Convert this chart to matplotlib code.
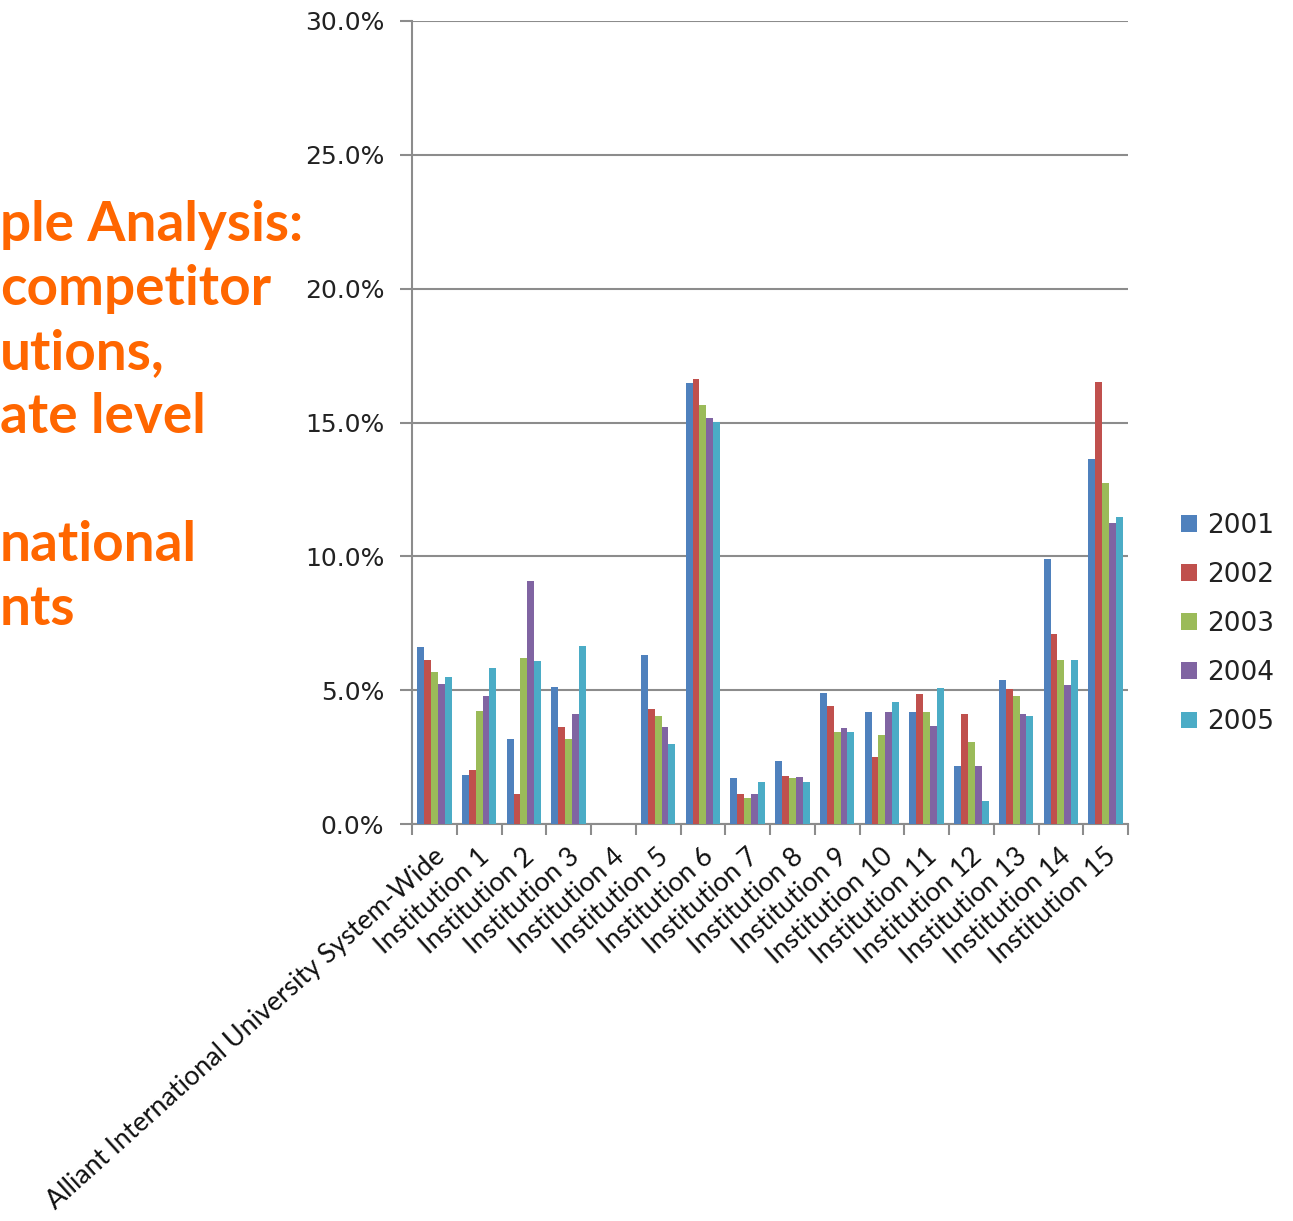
import matplotlib.pyplot as plt
import numpy as np
from matplotlib.ticker import PercentFormatter

# Share of graduate international students by institution, 2001-2005 (%)
categories = ["Alliant International University System-Wide"] + \
    [f"Institution {i}" for i in range(1, 16)]
years = ["2001", "2002", "2003", "2004", "2005"]

share_2001 = [6.63, 1.82, 3.18, 5.10, 0.0, 6.32, 16.48, 1.70, 2.34, 4.91, 4.20, 4.17, 2.15, 5.38, 9.90, 13.63]
share_2002 = [6.13, 2.02, 1.12, 3.62, 0.0, 4.30, 16.62, 1.12, 1.80, 4.41, 2.50, 4.86, 4.11, 5.05, 7.10, 16.52]
share_2003 = [5.69, 4.21, 6.22, 3.18, 0.0, 4.02, 15.65, 0.97, 1.70, 3.42, 3.32, 4.17, 3.08, 4.80, 6.13, 12.75]
share_2004 = [5.24, 4.77, 9.08, 4.11, 0.0, 3.62, 15.15, 1.12, 1.76, 3.57, 4.17, 3.66, 2.15, 4.11, 5.20, 11.23]
share_2005 = [5.50, 5.84, 6.08, 6.66, 0.0, 2.99, 15.02, 1.56, 1.56, 3.42, 4.56, 5.08, 0.87, 4.02, 6.13, 11.48]
series = [share_2001, share_2002, share_2003, share_2004, share_2005]

colors = ["#4F81BD", "#C0504D", "#9BBB59", "#8064A2", "#4BACC6"]
heading_lines = ["ple Analysis:", "competitor", "utions,", "ate level", "",
                 "national", "nts"]

fig = plt.figure(figsize=(12.93, 12.21), dpi=100)
ax = fig.add_axes([412 / 1293, 1 - 824 / 1221, 716 / 1293, 803 / 1221])

n = len(series)
bar_w = 1 / (n + 1.5)
x = np.arange(len(categories))
for k, (vals, col, yr) in enumerate(zip(series, colors, years)):
    offs = (k - (n - 1) / 2) * bar_w
    ax.bar(x + offs, vals, width=bar_w, color=col, label=yr, zorder=3,
           edgecolor="none")

grid_c = "#8c8c8c"
ax.set_xlim(-0.5, len(categories) - 0.5)
ax.set_ylim(0, 30)
ax.set_yticks(np.arange(0, 30.1, 5))
ax.yaxis.set_major_formatter(PercentFormatter(decimals=1))
ax.grid(axis="y", color=grid_c, linewidth=1.5, zorder=0)
for side in ["top", "right"]:
    ax.spines[side].set_visible(False)
for side in ["left", "bottom"]:
    ax.spines[side].set_color(grid_c)
    ax.spines[side].set_linewidth(1.5)

# category boundaries carry the x ticks, labels sit at the centres
ax.set_xticks(np.arange(len(categories) + 1) - 0.5)
ax.set_xticklabels([])
ax.tick_params(axis="x", length=8, width=1.5, color=grid_c)
ax.tick_params(axis="y", length=9, width=1.5, color=grid_c, pad=11,
               labelsize=18, labelcolor="#222222")

for i, name in enumerate(categories):
    ax.annotate(name, xy=(i, 0), xycoords=("data", "axes fraction"),
                xytext=(5, -21), textcoords="offset points",
                rotation=42, rotation_mode="anchor", ha="right", va="center",
                fontsize=19.3, family="Lato", color="#111111")

leg = ax.legend(loc="center left", bbox_to_anchor=(1.041, 0.249), frameon=False,
                fontsize=19, handlelength=0.6, handleheight=0.6,
                labelspacing=0.875, handletextpad=0.4)
for t in leg.get_texts():
    t.set_color("#222222")

# orange heading running off the left edge
for j, line in enumerate(heading_lines):
    if line:
        fig.text(0.0, 1 - (241 + j * 64) / 1221, line, color="#FF6600",
                 fontsize=39.5, fontweight="bold", family="Lato",
                 ha="left", va="baseline")

fig.savefig("out.png", dpi=100)
